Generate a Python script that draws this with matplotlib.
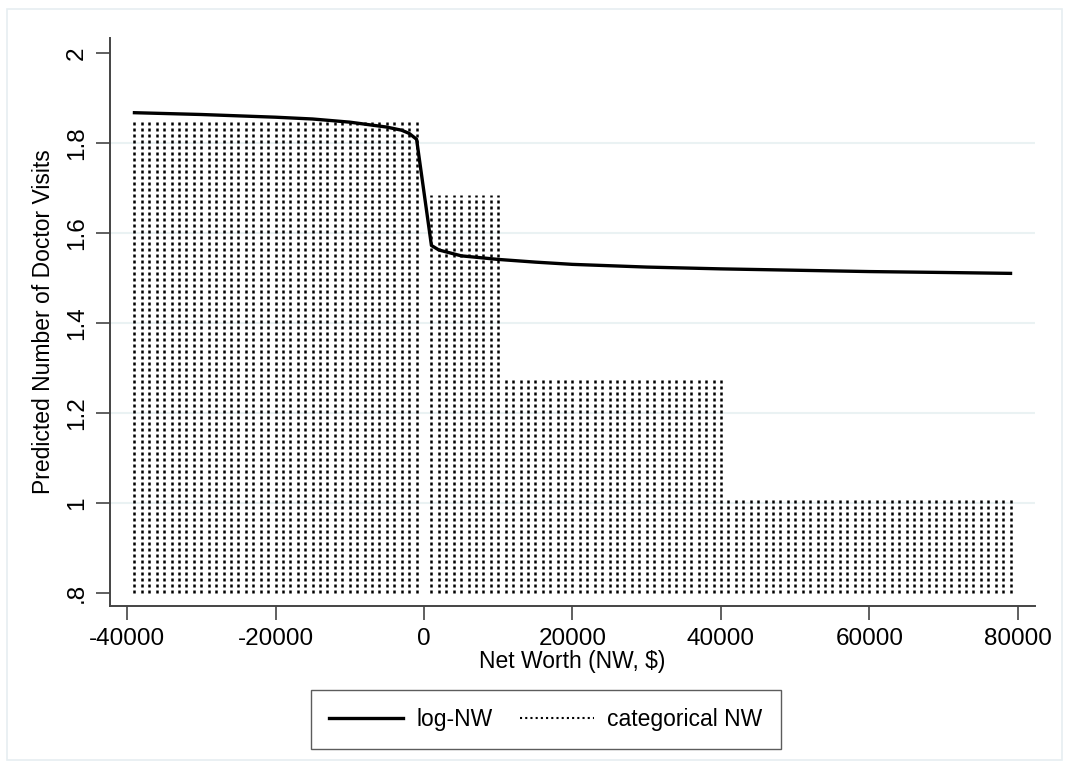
import numpy as np
import matplotlib
matplotlib.use("Agg")
import matplotlib.pyplot as plt
from matplotlib.lines import Line2D
from matplotlib.patches import Rectangle

plt.rcParams['font.family'] = ['Liberation Sans', 'DejaVu Sans']

# predicted visits, log-NW model
lognw_x = [-39000, -30000, -20000, -15000, -10000, -5000, -3000, -2000, -1000,
           1000, 2000, 5000, 10000, 15000, 20000, 30000, 40000, 50000, 60000, 70000, 79000]
lognw_y = [1.867, 1.863, 1.857, 1.853, 1.846, 1.835, 1.828, 1.821, 1.808,
           1.572, 1.562, 1.549, 1.541, 1.535, 1.530, 1.524, 1.520, 1.517, 1.514, 1.512, 1.510]

# predicted visits, categorical NW model (one value per bracket)
cat_lo = [-39000, 1000, 11000, 41000]
cat_hi = [-1000, 10000, 40000, 79000]
cat_pred = [1.850, 1.685, 1.275, 1.013]

yticks = [0.8, 1.0, 1.2, 1.4, 1.6, 1.8, 2.0]
ytick_labels = ['.8', '1', '1.2', '1.4', '1.6', '1.8', '2']
xticks = [-40000, -20000, 0, 20000, 40000, 60000, 80000]

fig = plt.figure(figsize=(10.65, 7.69), dpi=100)
ax = fig.add_axes([0.1033, 0.212, 0.8685, 0.7386])

# outer frame
fig.patches.append(Rectangle((7 / 1065, 9 / 769), 1055 / 1065, 751 / 769,
                             transform=fig.transFigure, fill=False,
                             edgecolor='#e6eef1', lw=1.2))

# categorical bars as dotted spikes every $1000 (dash period = 6 px)
for lo, hi, v in zip(cat_lo, cat_hi, cat_pred):
    xs = np.arange(lo, hi + 1, 1000)
    ax.vlines(xs, 0.8, v, colors='black', linewidth=1.8,
              linestyles=(0, (1.2, 1.2)), capstyle='butt', zorder=2)

ax.plot(lognw_x, lognw_y, color='black', lw=2.4, zorder=3,
        solid_joinstyle='round')

ax.set_xlim(-42290, 82290)
ax.set_ylim(0.771, 2.033)

for y in [1.0, 1.2, 1.4, 1.6, 1.8]:
    ax.axhline(y, color='#eaf2f3', lw=1.5, zorder=1)

ax.set_yticks(yticks)
ax.set_yticklabels(ytick_labels, rotation=90, va='center')
ax.set_xticks(xticks)
ax.set_xticklabels([str(t) for t in xticks])
ax.tick_params(axis='both', labelsize=17.5, length=10, width=1.2,
               color='#444444', pad=6)

for side in ['top', 'right']:
    ax.spines[side].set_visible(False)
for side in ['left', 'bottom']:
    ax.spines[side].set_color('#444444')
    ax.spines[side].set_linewidth(1.4)

ax.set_xlabel('Net Worth (NW, $)', fontsize=16.5, labelpad=0)
ax.set_ylabel('Predicted Number of Doctor Visits', fontsize=16.5, labelpad=8)

handles = [Line2D([], [], color='black', lw=2.4),
           Line2D([], [], color='black', lw=1.5, linestyle=(0, (1.0, 1.5)))]
leg = fig.legend(handles, ['log-NW', 'categorical NW'], loc='center',
                 bbox_to_anchor=(0.5127, 0.0644), ncol=2, fontsize=16.5,
                 handlelength=3.2, columnspacing=1.2, handletextpad=0.6,
                 borderpad=0.8, fancybox=False, frameon=True)
leg.get_frame().set_edgecolor('#333333')
leg.get_frame().set_linewidth(1.0)

fig.savefig('out.png', dpi=100)
